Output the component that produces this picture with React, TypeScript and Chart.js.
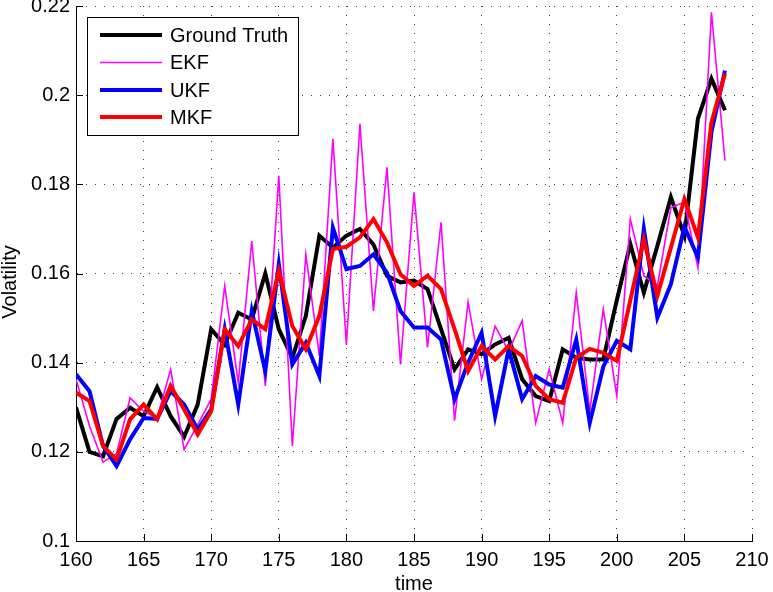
import { useEffect, useRef } from "react";
import { Chart, registerables } from "chart.js";

Chart.register(...registerables);

// Time steps and filtered volatility estimates
const times = [
  160, 161, 162, 163, 164, 165, 166, 167, 168, 169,
  170, 171, 172, 173, 174, 175, 176, 177, 178, 179,
  180, 181, 182, 183, 184, 185, 186, 187, 188, 189,
  190, 191, 192, 193, 194, 195, 196, 197, 198, 199,
  200, 201, 202, 203, 204, 205, 206, 207, 208,
];

const groundTruth = [
  0.130, 0.120, 0.119, 0.1274, 0.1299, 0.128, 0.1345, 0.128, 0.1234, 0.1306,
  0.1475, 0.144, 0.1512, 0.1497, 0.160, 0.1475, 0.1411, 0.1505, 0.1685, 0.1658,
  0.1685, 0.170, 0.1665, 0.1595, 0.158, 0.1584, 0.1565, 0.1475, 0.1385, 0.143,
  0.1419, 0.1441, 0.1456, 0.1363, 0.1325, 0.1314, 0.143, 0.1411, 0.1407, 0.1407,
  0.154, 0.1666, 0.1557, 0.1662, 0.1771, 0.1685, 0.1947, 0.2037, 0.1966,
];

const ekf = [
  0.1363, 0.1258, 0.1177, 0.1196, 0.1321, 0.1291, 0.1276, 0.1385, 0.1205, 0.1261,
  0.1318, 0.1572, 0.1355, 0.1673, 0.1348, 0.1819, 0.1213, 0.1643, 0.1415, 0.1902,
  0.144, 0.1936, 0.1516, 0.1838, 0.1396, 0.1782, 0.1434, 0.1715, 0.127, 0.1536,
  0.1363, 0.1482, 0.1426, 0.1494, 0.1265, 0.1385, 0.1265, 0.1557, 0.1291, 0.152,
  0.1325, 0.1722, 0.1595, 0.1572, 0.1748, 0.176, 0.1613, 0.2186, 0.1853,
];

const ukf = [
  0.1374, 0.1336, 0.1213, 0.1168, 0.1228, 0.1276, 0.1274, 0.1336, 0.1306, 0.125,
  0.1295, 0.1475, 0.1306, 0.1516, 0.1381, 0.1621, 0.1396, 0.1445, 0.137, 0.1703,
  0.161, 0.1617, 0.1643, 0.1602, 0.1516, 0.1479, 0.1479, 0.1452, 0.1318, 0.140,
  0.1467, 0.128, 0.143, 0.1318, 0.137, 0.1351, 0.1344, 0.1452, 0.1265, 0.1391,
  0.1449, 0.143, 0.170, 0.1501, 0.1576, 0.1705, 0.1636, 0.1917, 0.2055,
];

const mkf = [
  0.1333, 0.1314, 0.1213, 0.1183, 0.1273, 0.1306, 0.1273, 0.1348, 0.1295, 0.1239,
  0.1291, 0.1475, 0.1437, 0.1497, 0.1475, 0.1606, 0.1482, 0.143, 0.1505, 0.1655,
  0.166, 0.1681, 0.1722, 0.167, 0.1598, 0.1572, 0.1595, 0.1565, 0.1475, 0.1381,
  0.1437, 0.1407, 0.1437, 0.1415, 0.1348, 0.1318, 0.131, 0.1411, 0.1431, 0.1422,
  0.1404, 0.154, 0.1677, 0.155, 0.1658, 0.1767, 0.1681, 0.1939, 0.2048,
];

const xTickValues = [160, 165, 170, 175, 180, 185, 190, 195, 200, 205, 210];
const yTickValues = [0.1, 0.12, 0.14, 0.16, 0.18, 0.2, 0.22];
const yTickLabels = ["0.1", "0.12", "0.14", "0.16", "0.18", "0.2", "0.22"];

const xTitle = "time";
const yTitle = "Volatility";

const FONT = '"Liberation Sans", Arial, Helvetica, sans-serif';
const FONT_SIZE = 20;

const toPoints = (values: number[]) => times.map((t, i) => ({ x: t, y: values[i] }));

// Draws inward tick marks, axis titles and a boxed legend inside the plot
const axesDecor = {
  id: "axesDecor",
  afterDraw(chart: any) {
    const { ctx, chartArea } = chart;
    const { left, right, bottom } = chartArea;
    const xs = chart.scales.x;
    const ys = chart.scales.y;
    ctx.save();

    // tick marks pointing into the plot
    ctx.strokeStyle = "#000";
    ctx.lineWidth = 1;
    ctx.setLineDash([]);
    ctx.beginPath();
    for (const t of xs.ticks) {
      const px = Math.round(xs.getPixelForValue(t.value)) + 0.5;
      ctx.moveTo(px, bottom);
      ctx.lineTo(px, bottom - 7);
    }
    for (const t of ys.ticks) {
      const py = Math.round(ys.getPixelForValue(t.value)) + 0.5;
      ctx.moveTo(left, py);
      ctx.lineTo(left + 7, py);
    }
    ctx.stroke();

    // axis titles
    ctx.fillStyle = "#000";
    ctx.font = `${FONT_SIZE}px ${FONT}`;
    ctx.textAlign = "center";
    ctx.textBaseline = "alphabetic";
    ctx.fillText(xTitle, (left + right) / 2, 590);
    ctx.save();
    ctx.translate(16, 282);
    ctx.rotate(-Math.PI / 2);
    ctx.fillText(yTitle, 0, 0);
    ctx.restore();

    // legend box
    const bx = 87.5, by = 17.5, bw = 211, bh = 118;
    ctx.fillStyle = "#fff";
    ctx.fillRect(bx, by, bw, bh);
    ctx.strokeStyle = "#000";
    ctx.lineWidth = 1;
    ctx.strokeRect(bx, by, bw, bh);
    const rows = [35, 62.5, 90, 117];
    ctx.textAlign = "left";
    ctx.textBaseline = "middle";
    chart.data.datasets.forEach((ds: any, i: number) => {
      const y = rows[i];
      ctx.strokeStyle = ds.borderColor;
      ctx.lineWidth = ds.borderWidth;
      ctx.beginPath();
      ctx.moveTo(100, y);
      ctx.lineTo(162, y);
      ctx.stroke();
      ctx.fillStyle = "#000";
      ctx.fillText(ds.label, 170, y + 1);
    });

    ctx.restore();
  },
};

export default function App() {
  const canvasRef = useRef<HTMLCanvasElement>(null);

  useEffect(() => {
    const canvas = canvasRef.current;
    if (!canvas) return;
    const gridColor = "rgba(0,0,0,0.75)";
    const chart = new Chart(canvas, {
      type: "line",
      data: {
        datasets: [
          { label: "Ground Truth", data: toPoints(groundTruth), borderColor: "#000000", borderWidth: 4, order: 4 },
          { label: "EKF", data: toPoints(ekf), borderColor: "#ff00ff", borderWidth: 1.6, order: 3 },
          { label: "UKF", data: toPoints(ukf), borderColor: "#0000ff", borderWidth: 4, order: 2 },
          { label: "MKF", data: toPoints(mkf), borderColor: "#ff0000", borderWidth: 4, order: 1 },
        ].map((d) => ({
          ...d,
          fill: false,
          tension: 0,
          pointRadius: 0,
          pointHoverRadius: 0,
          backgroundColor: d.borderColor,
        })),
      },
      options: {
        responsive: false,
        animation: false,
        devicePixelRatio: 1,
        events: [],
        layout: { padding: { top: 6, right: 21, bottom: 0, left: 0 } },
        plugins: {
          legend: { display: false },
          tooltip: { enabled: false },
        },
        scales: {
          x: {
            type: "linear",
            position: "bottom",
            min: 160,
            max: 210,
            afterBuildTicks: (scale: any) => {
              scale.ticks = xTickValues.map((v) => ({ value: v }));
            },
            afterFit: (scale: any) => {
              scale.height = 51;
              scale.paddingLeft = 0;
              scale.paddingRight = 0;
            },
            ticks: {
              color: "#000",
              font: { family: FONT, size: FONT_SIZE },
              padding: 7,
              maxRotation: 0,
              autoSkip: false,
              callback: (v: any) => String(v),
            },
            grid: { color: gridColor, lineWidth: 1, drawTicks: false },
            border: { display: true, color: "#000", width: 1, dash: [1, 8] },
          },
          y: {
            type: "linear",
            position: "left",
            min: 0.1,
            max: 0.22,
            afterBuildTicks: (scale: any) => {
              scale.ticks = yTickValues.map((v) => ({ value: v }));
            },
            afterFit: (scale: any) => {
              scale.width = 76;
              scale.paddingTop = 0;
              scale.paddingBottom = 0;
            },
            ticks: {
              color: "#000",
              font: { family: FONT, size: FONT_SIZE },
              padding: 6,
              autoSkip: false,
              callback: (_v: any, i: number) => yTickLabels[i],
            },
            grid: { color: gridColor, lineWidth: 1, drawTicks: false },
            border: { display: true, color: "#000", width: 1, dash: [1, 8] },
          },
        },
      },
      plugins: [axesDecor],
    });
    return () => chart.destroy();
  }, []);

  return (
    <div style={{ position: "absolute", left: 0, top: 0, width: 773, height: 592, background: "#fff" }}>
      <canvas ref={canvasRef} width={773} height={592} style={{ display: "block", width: 773, height: 592 }} />
    </div>
  );
}
